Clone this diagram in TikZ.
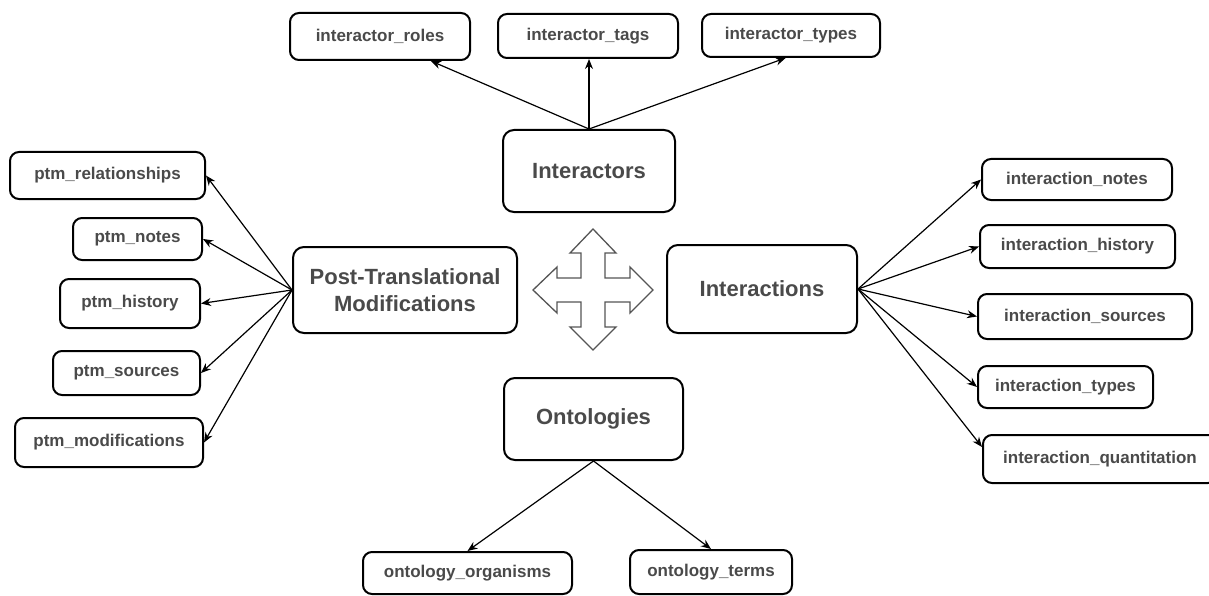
\documentclass[tikz,border=0pt]{standalone}
\usepackage{fontspec}
\setmainfont{Liberation Sans}
\usetikzlibrary{arrows.meta,calc}
\definecolor{txt}{HTML}{4A4A4A}
\definecolor{arrowgray}{HTML}{555555}
\tikzset{
  leaf/.style={draw=black, line width=2pt, rounded corners=9pt, inner sep=0pt,
    font=\fontsize{17}{20}\selectfont\bfseries, text=txt, fill=white},
  hub/.style={draw=black, line width=2pt, rounded corners=11pt, inner sep=0pt,
    font=\fontsize{22}{27}\selectfont\bfseries, text=txt, align=center, fill=white},
  link/.style={line width=1.2pt, -{Stealth[length=10pt,width=8pt]}}
}
\begin{document}
\begin{tikzpicture}[x=1pt,y=-1pt]
\useasboundingbox (0,0) rectangle (1209,596);
\fill[white] (0,0) rectangle (1209,596);

% hubs
\node[hub, minimum width=172, minimum height=82] (ir) at (589,171) {Interactors};
\node[hub, minimum width=224, minimum height=86] (ptm) at (405,290) {Post-Translational\\Modifications};
\node[hub, minimum width=190, minimum height=88] (ia) at (762,289) {Interactions};
\node[hub, minimum width=179, minimum height=82] (ont) at (593.5,419) {Ontologies};

% top leaves
\node[leaf, minimum width=180, minimum height=47] (roles) at (380,36.5) {interactor\_roles};
\node[leaf, minimum width=180, minimum height=44] (tags) at (588,36) {interactor\_tags};
\node[leaf, minimum width=178, minimum height=43] (types) at (791,35.5) {interactor\_types};

% left leaves
\node[leaf, minimum width=195, minimum height=47] (prel) at (107.5,175.5) {ptm\_relationships};
\node[leaf, minimum width=129, minimum height=42] (pnot) at (137.5,239) {ptm\_notes};
\node[leaf, minimum width=140, minimum height=49] (phis) at (130,303.5) {ptm\_history};
\node[leaf, minimum width=147, minimum height=44] (psrc) at (126.5,373) {ptm\_sources};
\node[leaf, minimum width=188, minimum height=49] (pmod) at (109,442.5) {ptm\_modifications};

% right leaves
\node[leaf, minimum width=190, minimum height=41] (inot) at (1077,179.5) {interaction\_notes};
\node[leaf, minimum width=195, minimum height=43] (ihis) at (1077.5,246.5) {interaction\_history};
\node[leaf, minimum width=214, minimum height=45] (isrc) at (1085,316.5) {interaction\_sources};
\node[leaf, minimum width=175, minimum height=42] (ityp) at (1065.5,387) {interaction\_types};
\node[leaf, minimum width=234, minimum height=48] (iqua) at (1100,459) {interaction\_quantitation};

% bottom leaves
\node[leaf, minimum width=209, minimum height=42] (oorg) at (467.5,573) {ontology\_organisms};
\node[leaf, minimum width=162, minimum height=44] (oter) at (711,572) {ontology\_terms};

% connectors
\draw[link] (ir.north) -- ($(roles.south west)!0.78!(roles.south east)$);
\draw[link] (ir.north) -- (ir.north |- tags.south);
\draw[link] (ir.north) -- ($(types.south west)!0.47!(types.south east)$);

\draw[link] (ptm.west) -- (prel.east);
\draw[link] (ptm.west) -- (pnot.east);
\draw[link] (ptm.west) -- (phis.east);
\draw[link] (ptm.west) -- (psrc.east);
\draw[link] (ptm.west) -- (pmod.east);

\draw[link] (ia.east) -- (inot.west);
\draw[link] (ia.east) -- (ihis.west);
\draw[link] (ia.east) -- (isrc.west);
\draw[link] (ia.east) -- (ityp.west);
\draw[link] (ia.east) -- ($(iqua.west)+(0,-12)$);

\draw[link] (ont.south) -- (oorg.north);
\draw[link] (ont.south) -- (oter.north);

% four-way arrow
\draw[arrowgray, line width=1.3pt, line join=miter]
  (593,229) -- (616,253) -- (605,253) -- (605,278) -- (630,278) -- (630,267)
  -- (653,290) -- (630,313) -- (630,302) -- (605,302) -- (605,327) -- (616,327)
  -- (593,350) -- (570,327) -- (581,327) -- (581,302) -- (557,302) -- (557,313)
  -- (533,290) -- (557,267) -- (557,278) -- (581,278) -- (581,253) -- (570,253) -- cycle;
\end{tikzpicture}
\end{document}
